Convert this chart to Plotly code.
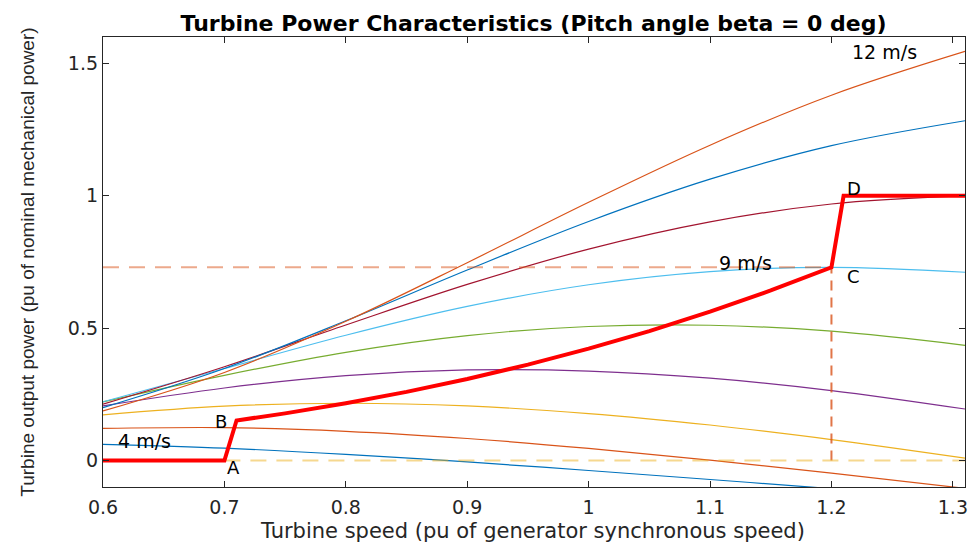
import plotly.graph_objects as go

# Rotor speed samples (pu of generator synchronous speed)
speed = [0.6, 0.7, 0.8, 0.9, 1.0, 1.1, 1.2, 1.31]

# Turbine output power (pu) for each wind speed, beta = 0 deg
wind_names = ["4 m/s", "5 m/s", "6 m/s", "7 m/s", "8 m/s", "9 m/s", "10 m/s", "11 m/s", "12 m/s"]
p_4 = [0.0611, 0.0467, 0.0235, -0.0054, -0.0376, -0.0716, -0.1062, -0.1439]
p_5 = [0.1211, 0.1242, 0.1105, 0.0833, 0.0459, 0.0014, -0.0477, -0.1051]
p_6 = [0.1725, 0.2053, 0.2163, 0.2061, 0.1775, 0.1342, 0.0793, 0.0092]
p_7 = [0.2063, 0.2740, 0.3207, 0.3421, 0.3381, 0.3111, 0.2644, 0.1946]
p_8 = [0.2214, 0.3218, 0.4089, 0.4720, 0.5063, 0.5111, 0.4885, 0.4354]
p_9 = [0.2219, 0.3475, 0.4732, 0.5822, 0.6641, 0.7137, 0.7300, 0.7112]
p_10 = [0.2130, 0.3544, 0.5120, 0.6654, 0.7987, 0.9016, 0.9691, 1.0004]
p_11 = [0.2001, 0.3476, 0.5279, 0.7198, 0.9032, 1.0630, 1.1895, 1.2837]
p_12 = [0.1872, 0.3328, 0.5259, 0.7474, 0.9755, 1.1913, 1.3801, 1.5455]
power_curves = [p_4, p_5, p_6, p_7, p_8, p_9, p_10, p_11, p_12]

# Tracking characteristic A-B-C-D
track_speed = [0.6, 0.7, 0.71, 0.75, 0.8, 0.85, 0.9, 0.95, 1.0, 1.05, 1.1, 1.15, 1.2, 1.21, 1.31]
track_power = [0.0, 0.0, 0.1512, 0.1782, 0.2163, 0.2594, 0.3080, 0.3622, 0.4225, 0.4890,
               0.5623, 0.6425, 0.7300, 1.0, 1.0]

# Reference guides: max power at base wind speed, base rotor speed, zero level
p_base = 0.73
w_base = 1.2
zero_start = 0.7
zero_end = 1.31

# Point labels
point_names = ["A", "B", "C", "D"]
point_x = [0.7072, 0.6974, 1.2183, 1.2183]
point_y = [-0.026, 0.148, 0.697, 1.028]

x_ticks = [0.6, 0.7, 0.8, 0.9, 1.0, 1.1, 1.2, 1.3]
x_tick_text = ["0.6", "0.7", "0.8", "0.9", "1", "1.1", "1.2", "1.3"]
y_ticks = [0, 0.5, 1, 1.5]
y_tick_text = ["0", "0.5", "1", "1.5"]

colors = ["#0072BD", "#D95319", "#EDB120", "#7E2F8E", "#77AC30",
          "#4DBEEE", "#A2142F", "#0072BD", "#D95319"]

FONT = "DejaVu Sans"
INK = "#262626"

fig = go.Figure()

for name, pw, col in zip(wind_names, power_curves, colors):
    fig.add_trace(go.Scatter(x=speed, y=pw, mode="lines", name=name,
                             line=dict(color=col, width=1.2, shape="spline", smoothing=1.0)))

# dashed guide lines
fig.add_trace(go.Scatter(x=[speed[0], w_base], y=[p_base, p_base], mode="lines",
                         line=dict(color="rgba(217,83,25,0.5)", width=2, dash="16px,10px")))
fig.add_trace(go.Scatter(x=[w_base, w_base], y=[0, p_base], mode="lines",
                         line=dict(color="rgba(217,83,25,0.8)", width=2, dash="10px,7px")))
fig.add_trace(go.Scatter(x=[zero_start, zero_end], y=[0, 0], mode="lines",
                         line=dict(color="rgba(237,177,32,0.5)", width=2, dash="16px,10px")))

# tracking curve
fig.add_trace(go.Scatter(x=track_speed, y=track_power, mode="lines", name="tracking",
                         line=dict(color="#FF0000", width=4)))

annotations = []
annotations.append(dict(x=0.6105, y=0.074, xref="x", yref="y", text="4 m/s", showarrow=False,
                        xanchor="left", yanchor="middle", font=dict(family=FONT, size=19, color="black")))
annotations.append(dict(x=1.2438, y=1.543, xref="x", yref="y", text="12 m/s", showarrow=False,
                        xanchor="center", yanchor="middle", font=dict(family=FONT, size=19, color="black")))
annotations.append(dict(x=1.129, y=0.746, xref="x", yref="y", text="9 m/s", showarrow=False,
                        xanchor="center", yanchor="middle", font=dict(family=FONT, size=19, color="black")))
for nm, px, py in zip(point_names, point_x, point_y):
    annotations.append(dict(x=px, y=py, xref="x", yref="y", text=nm, showarrow=False,
                            xanchor="center", yanchor="middle",
                            font=dict(family=FONT, size=18, color="black")))

# axis titles
annotations.append(dict(x=0.4977, y=-0.097, xref="paper", yref="paper",
                        text="Turbine speed (pu of generator synchronous speed)", showarrow=False,
                        xanchor="center", yanchor="middle", font=dict(family=FONT, size=21, color=INK)))
annotations.append(dict(x=-0.0879, y=0.499, xref="paper", yref="paper", textangle=-90,
                        text="Turbine output power (pu of nominal mechanical power)", showarrow=False,
                        xanchor="center", yanchor="middle",
                        font=dict(family="Liberation Sans", size=19, color=INK)))

axis_common = dict(showline=True, linecolor=INK, linewidth=1.3, mirror="allticks",
                   ticks="inside", ticklen=6, tickwidth=1, tickcolor=INK,
                   showgrid=False, zeroline=False,
                   tickfont=dict(family=FONT, size=19, color=INK))

fig.update_layout(
    width=979, height=543,
    margin=dict(l=103, r=11, t=37, b=56),
    plot_bgcolor="white", paper_bgcolor="white",
    showlegend=False,
    title=dict(text="<b>Turbine Power Characteristics (Pitch angle beta = 0 deg)</b>",
               x=0.545, xanchor="center", xref="container",
               y=1 - 23 / 543, yanchor="middle", yref="container",
               font=dict(family=FONT, size=22, color="black")),
    xaxis=dict(range=[0.6, 1.31], tickvals=x_ticks, ticktext=x_tick_text,
               ticklabelstandoff=3, **axis_common),
    yaxis=dict(range=[-0.1, 1.6], tickvals=y_ticks, ticktext=y_tick_text, **axis_common),
    annotations=annotations,
)

fig.write_html("out.html")
